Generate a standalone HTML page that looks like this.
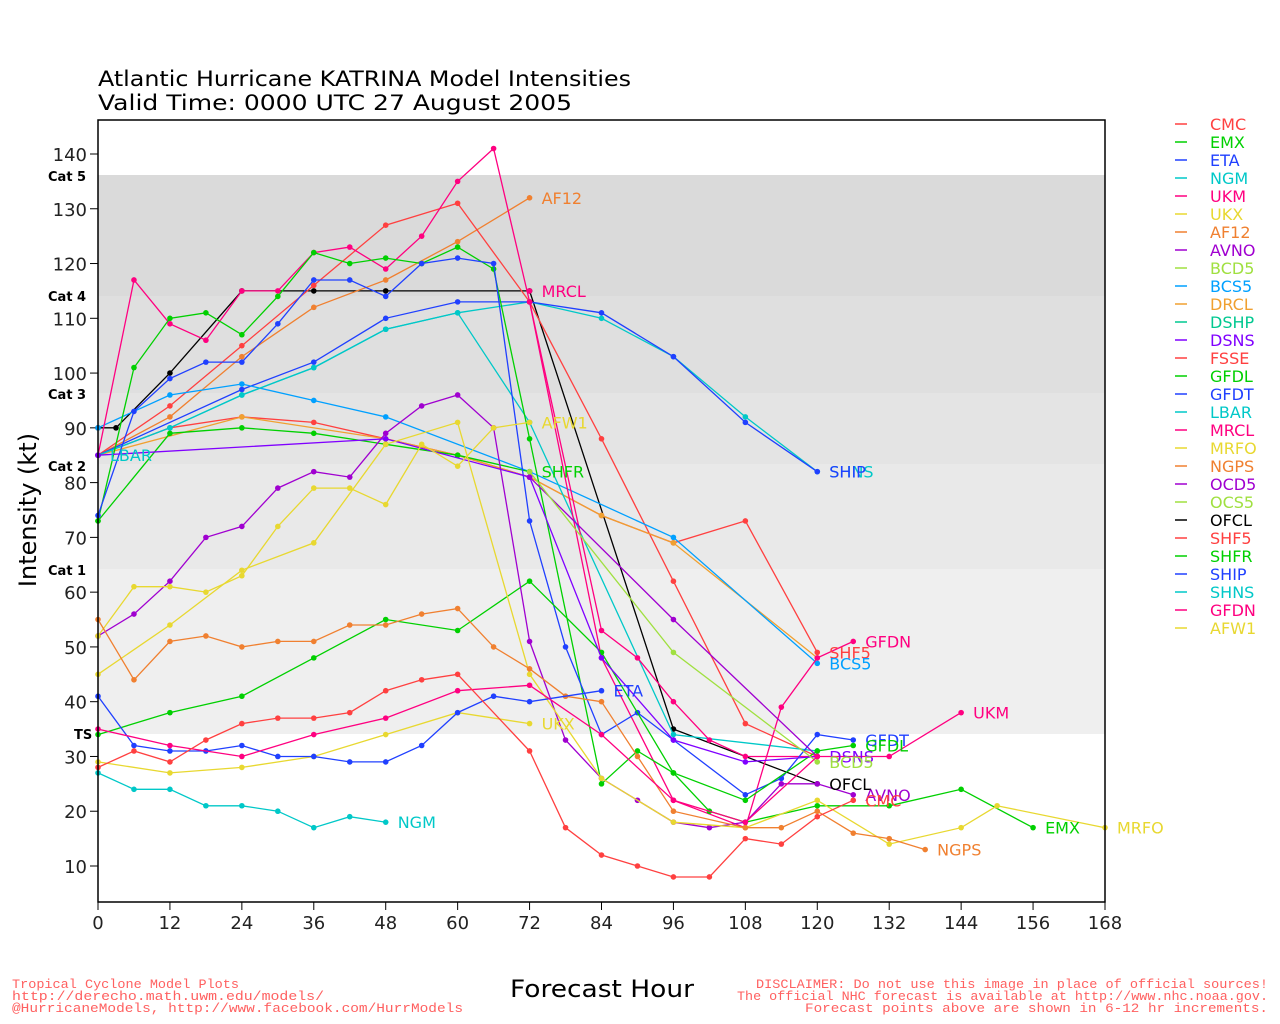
<!DOCTYPE html>
<html><head><meta charset="utf-8"><style>
html,body{margin:0;padding:0;background:#fff;}
svg{display:block;font-family:"DejaVu Sans","Liberation Sans",sans-serif;}
</style></head><body>
<svg id="s" width="1280" height="1024" xmlns="http://www.w3.org/2000/svg">
<rect width="1280" height="1024" fill="#fff"/>
<rect x="98" y="175" width="1007" height="121" fill="#dadada"/>
<rect x="98" y="296" width="1007" height="97" fill="#dfdfdf"/>
<rect x="98" y="393" width="1007" height="71" fill="#e4e4e4"/>
<rect x="98" y="464" width="1007" height="105" fill="#e9e9e9"/>
<rect x="98" y="569" width="1007" height="165" fill="#efefef"/>
<g font-size="13" font-weight="bold" fill="#000" font-family="DejaVu Sans,sans-serif">
<text x="48" y="181">Cat 5</text><text x="48" y="301">Cat 4</text><text x="48" y="399">Cat 3</text>
<text x="48" y="471">Cat 2</text><text x="48" y="575">Cat 1</text><text x="74" y="739">TS</text>
</g>
<text x="98" y="86" font-size="21" fill="#000" textLength="533" lengthAdjust="spacingAndGlyphs">Atlantic Hurricane KATRINA Model Intensities</text>
<text x="98" y="110" font-size="21" fill="#000" textLength="474" lengthAdjust="spacingAndGlyphs">Valid Time: 0000 UTC 27 August 2005</text>
<text x="510" y="997" font-size="24" fill="#000" textLength="184" lengthAdjust="spacingAndGlyphs">Forecast Hour</text>
<text x="36" y="510" font-size="24" text-anchor="middle" fill="#000" transform="rotate(-90 36 510)">Intensity (kt)</text>
<g font-size="13" fill="#ff6060" font-family="Liberation Mono,monospace">
<text x="12" y="988" textLength="227" lengthAdjust="spacingAndGlyphs">Tropical Cyclone Model Plots</text>
<text x="12" y="1000" textLength="312" lengthAdjust="spacingAndGlyphs">http://derecho.math.uwm.edu/models/</text>
<text x="12" y="1012" textLength="451" lengthAdjust="spacingAndGlyphs">@HurricaneModels, http://www.facebook.com/HurrModels</text>
<text x="756" y="988" textLength="512" lengthAdjust="spacingAndGlyphs">DISCLAIMER: Do not use this image in place of official sources!</text>
<text x="737" y="1000" textLength="531" lengthAdjust="spacingAndGlyphs">The official NHC forecast is available at http://www.nhc.noaa.gov.</text>
<text x="805" y="1012" textLength="463" lengthAdjust="spacingAndGlyphs">Forecast points above are shown in 6-12 hr increments.</text>
</g>
<g id="ax"></g>
<g id="ser"></g>
<rect x="98" y="120" width="1007" height="782" fill="none" stroke="#000" stroke-width="1.5"/>
<g id="leg"></g>
</svg>
<script>
var NS="http://www.w3.org/2000/svg";
function X(h){return 98+h*5.994;}function Y(v){return 866-(v-10)*5.477;}
function el(p,t,a,txt){var e=document.createElementNS(NS,t);for(var k in a)e.setAttribute(k,a[k]);if(txt!=null)e.textContent=txt;p.appendChild(e);return e;}
var ax=document.getElementById('ax');
for(var v=10;v<=140;v+=10){el(ax,'line',{x1:90,x2:98,y1:Y(v),y2:Y(v),stroke:'#000'});el(ax,'text',{x:87,y:Y(v)+7,'font-size':18,'text-anchor':'end',fill:'#222'},v);}
for(var h=0;h<=168;h+=12){el(ax,'line',{x1:X(h),x2:X(h),y1:902,y2:910,stroke:'#000'});el(ax,'text',{x:X(h),y:929,'font-size':18,'text-anchor':'middle',fill:'#222'},h);}
var S=[
["OFCL","#000000",[[0,90],[3,90],[12,100],[24,115],[36,115],[48,115],[72,115],[96,35],[120,25]],1],
["AF12","#f08030",[[0,85],[12,92],[24,103],[36,112],[48,117],[60,124],[72,132]],1],
["FSSE","#ff4040",[[0,85],[12,94],[24,105],[36,116],[48,127],[60,131],[72,113],[84,88],[96,62],[108,36],[120,30]],0],
["SHF5","#ff4040",[[0,85],[12,90],[24,92],[36,91],[48,88],[60,85],[72,81],[84,74],[96,69],[108,73],[120,49]],1],
["DRCL","#f0a030",[[0,85],[24,92],[48,88],[60,85],[72,81],[84,74],[96,69],[120,48]],0],
["SHNS","#00c8c8",[[0,85],[12,90],[24,96],[36,101],[48,108],[60,111],[72,113],[84,110],[96,103],[108,92],[120,82]],1],
["SHIP","#2040ff",[[0,85],[24,97],[36,102],[48,110],[60,113],[72,113],[84,111],[96,103],[108,91],[120,82]],1],
["BCS5","#00a0ff",[[0,90],[12,96],[24,98],[36,95],[48,92],[72,82],[96,70],[120,47]],1],
["SHFR","#00d000",[[0,73],[12,89],[24,90],[36,89],[48,87],[60,85],[72,82]],1],
["LBAR","#00c8c8",[[0,85],[12,90],[24,96],[36,101],[48,108],[60,111],[72,91],[96,34],[120,31]],2],
["UKM","#ff0080",[[0,85],[6,117],[12,109],[18,106],[24,115],[30,115],[36,122],[42,123],[48,119],[54,125],[60,135],[66,141],[72,113],[84,53],[90,48],[96,40],[102,33],[108,30],[120,30],[132,30],[144,38]],1],
["MRCL","#ff0080",[[72,115]],1],
["GFDN","#ff0080",[[72,113],[84,48],[96,22],[108,17],[114,39],[120,48],[126,51]],1],
["EMX","#00d000",[[0,73],[6,101],[12,110],[18,111],[24,107],[30,114],[36,122],[42,120],[48,121],[54,120],[60,123],[66,119],[72,88],[84,25],[90,31],[96,27],[102,20],[108,18],[120,21],[132,21],[144,24],[156,17]],1],
["GFDT","#2040ff",[[0,74],[6,93],[12,99],[18,102],[24,102],[30,109],[36,117],[42,117],[48,114],[54,120],[60,121],[66,120],[72,73],[78,50],[84,34],[90,38],[96,33],[108,23],[114,26],[120,34],[126,33]],1],
["GFDL","#00d000",[[0,34],[12,38],[24,41],[36,48],[48,55],[60,53],[72,62],[84,49],[96,27],[108,22],[120,31],[126,32]],1],
["AVNO","#a000d0",[[0,52],[6,56],[12,62],[18,70],[24,72],[30,79],[36,82],[42,81],[48,89],[54,94],[60,96],[66,90],[72,51],[78,33],[84,26],[90,22],[96,18],[102,17],[108,18],[114,25],[120,25],[126,23]],1],
["DSNS","#8000ff",[[0,85],[48,88],[72,81],[84,48],[96,33],[108,29],[120,30]],1],
["OCD5","#a000d0",[[72,81],[96,55],[120,30]],0],
["BCD5","#a0e040",[[72,82],[96,49],[120,29]],1],
["AFW1","#e8d830",[[0,52],[6,61],[12,61],[18,60],[24,63],[30,72],[36,79],[42,79],[48,76],[54,87],[60,83],[66,90],[72,91]],1],
["MRFO","#e8d830",[[0,45],[12,54],[24,64],[36,69],[48,87],[60,91],[72,45],[84,26],[96,18],[108,17],[120,22],[132,14],[144,17],[150,21],[168,17]],1],
["UKX","#e8d830",[[0,29],[12,27],[24,28],[36,30],[48,34],[60,38],[72,36]],1],
["NGPS","#f08030",[[0,55],[6,44],[12,51],[18,52],[24,50],[30,51],[36,51],[42,54],[48,54],[54,56],[60,57],[66,50],[72,46],[78,41],[84,40],[90,30],[96,20],[108,17],[114,17],[120,20],[126,16],[132,15],[138,13]],1],
["ETA","#2040ff",[[0,41],[6,32],[12,31],[18,31],[24,32],[30,30],[36,30],[42,29],[48,29],[54,32],[60,38],[66,41],[72,40],[84,42]],1],
["UKM2","#ff0080",[[0,35],[12,32],[24,30],[36,34],[48,37],[60,42],[72,43],[84,34],[96,22],[108,18],[120,30]],0],
["CMC","#ff4040",[[0,28],[6,31],[12,29],[18,33],[24,36],[30,37],[36,37],[42,38],[48,42],[54,44],[60,45],[72,31],[78,17],[84,12],[90,10],[96,8],[102,8],[108,15],[114,14],[120,19],[126,22]],1],
["NGM","#00c8c8",[[0,27],[6,24],[12,24],[18,21],[24,21],[30,20],[36,17],[42,19],[48,18]],1]
];
var g=document.getElementById('ser');
S.forEach(function(s){
 if(s[2].length>1){
 var pts=s[2].map(function(p){return X(p[0]).toFixed(1)+","+Y(p[1]).toFixed(1);}).join(" ");
 el(g,'polyline',{points:pts,fill:'none',stroke:s[1],'stroke-width':1.3});}
 s[2].forEach(function(p){el(g,'circle',{cx:X(p[0]),cy:Y(p[1]),r:2.8,fill:s[1]});});
});
S.forEach(function(s){
 if(!s[3])return;var p=s[2][s[2].length-1];var name=s[0];
 if(s[3]==2)p=s[2][0];
 el(g,'text',{x:X(p[0])+12,y:Y(p[1])+6,'font-size':16,fill:s[1]},name);
});
var L=[["CMC","#ff4040"],["EMX","#00d000"],["ETA","#2040ff"],["NGM","#00c8c8"],["UKM","#ff0080"],["UKX","#e8d830"],["AF12","#f08030"],["AVNO","#a000d0"],["BCD5","#a0e040"],["BCS5","#00a0ff"],["DRCL","#f0a030"],["DSHP","#00c890"],["DSNS","#8000ff"],["FSSE","#ff4040"],["GFDL","#00d000"],["GFDT","#2040ff"],["LBAR","#00c8c8"],["MRCL","#ff0080"],["MRFO","#e8d830"],["NGPS","#f08030"],["OCD5","#a000d0"],["OCS5","#a0e040"],["OFCL","#000000"],["SHF5","#ff4040"],["SHFR","#00d000"],["SHIP","#2040ff"],["SHNS","#00c8c8"],["GFDN","#ff0080"],["AFW1","#e8d830"]];
var lg=document.getElementById('leg');
L.forEach(function(l,i){var y=124+i*18;el(lg,'line',{x1:1175,x2:1187,y1:y,y2:y,stroke:l[1],'stroke-width':1.5});el(lg,'text',{x:1210,y:y+6,'font-size':16,fill:l[1]},l[0]);});
</script>
</body></html>
